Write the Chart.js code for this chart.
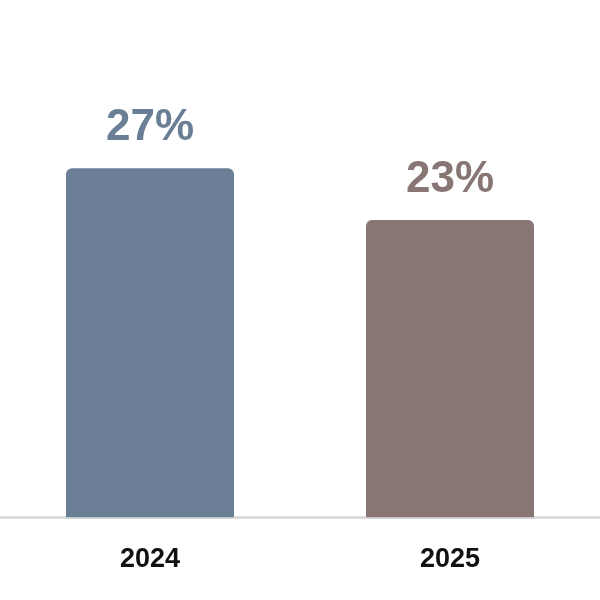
<!DOCTYPE html>
<html>
<head>
<meta charset="utf-8">
<script src="https://cdn.jsdelivr.net/npm/chart.js@4"></script>
<style>
    html, body { margin: 0; padding: 0; background: #fff; }
    #wrap { width: 600px; height: 600px; }
</style>
</head>
<body>
<div id="wrap"><canvas id="chart"></canvas></div>
<script>
// Chart data
const years = ['2024', '2025'];
const shares = [27, 23];
const barColors = ['#6a7f96', '#877674'];

// Draw the percentage above each bar
const valueLabels = {
    id: 'valueLabels',
    afterDatasetsDraw(chart) {
        const ctx = chart.ctx;
        const meta = chart.getDatasetMeta(0);
        ctx.save();
        ctx.font = 'bold 44px "Liberation Sans", Arial, sans-serif';
        ctx.textAlign = 'center';
        ctx.textBaseline = 'alphabetic';
        meta.data.forEach(function(bar, i) {
            ctx.fillStyle = barColors[i];
            ctx.fillText(shares[i] + '%', bar.x, bar.y - 28);
        });
        ctx.restore();
    }
};

new Chart(document.getElementById('chart').getContext('2d'), {
    type: 'bar',
    data: {
        labels: years,
        datasets: [{
            data: shares,
            backgroundColor: barColors,
            borderRadius: 6,
            borderSkipped: 'start',
            barPercentage: 0.56,
            categoryPercentage: 1
        }]
    },
    options: {
        responsive: true,
        maintainAspectRatio: false,
        animation: false,
        layout: { padding: { top: 0, left: 0, right: 0, bottom: -2 } },
        plugins: {
            legend: { display: false },
            tooltip: { enabled: false }
        },
        scales: {
            x: {
                grid: { display: false, drawTicks: false },
                border: { display: true, color: '#dddddd', width: 3 },
                ticks: {
                    color: '#111111',
                    padding: 26,
                    font: { family: '"Liberation Sans", Arial, sans-serif', size: 27, weight: 'bold' }
                }
            },
            y: {
                display: false,
                min: 0,
                max: 40
            }
        }
    },
    plugins: [valueLabels]
});
</script>
</body>
</html>
